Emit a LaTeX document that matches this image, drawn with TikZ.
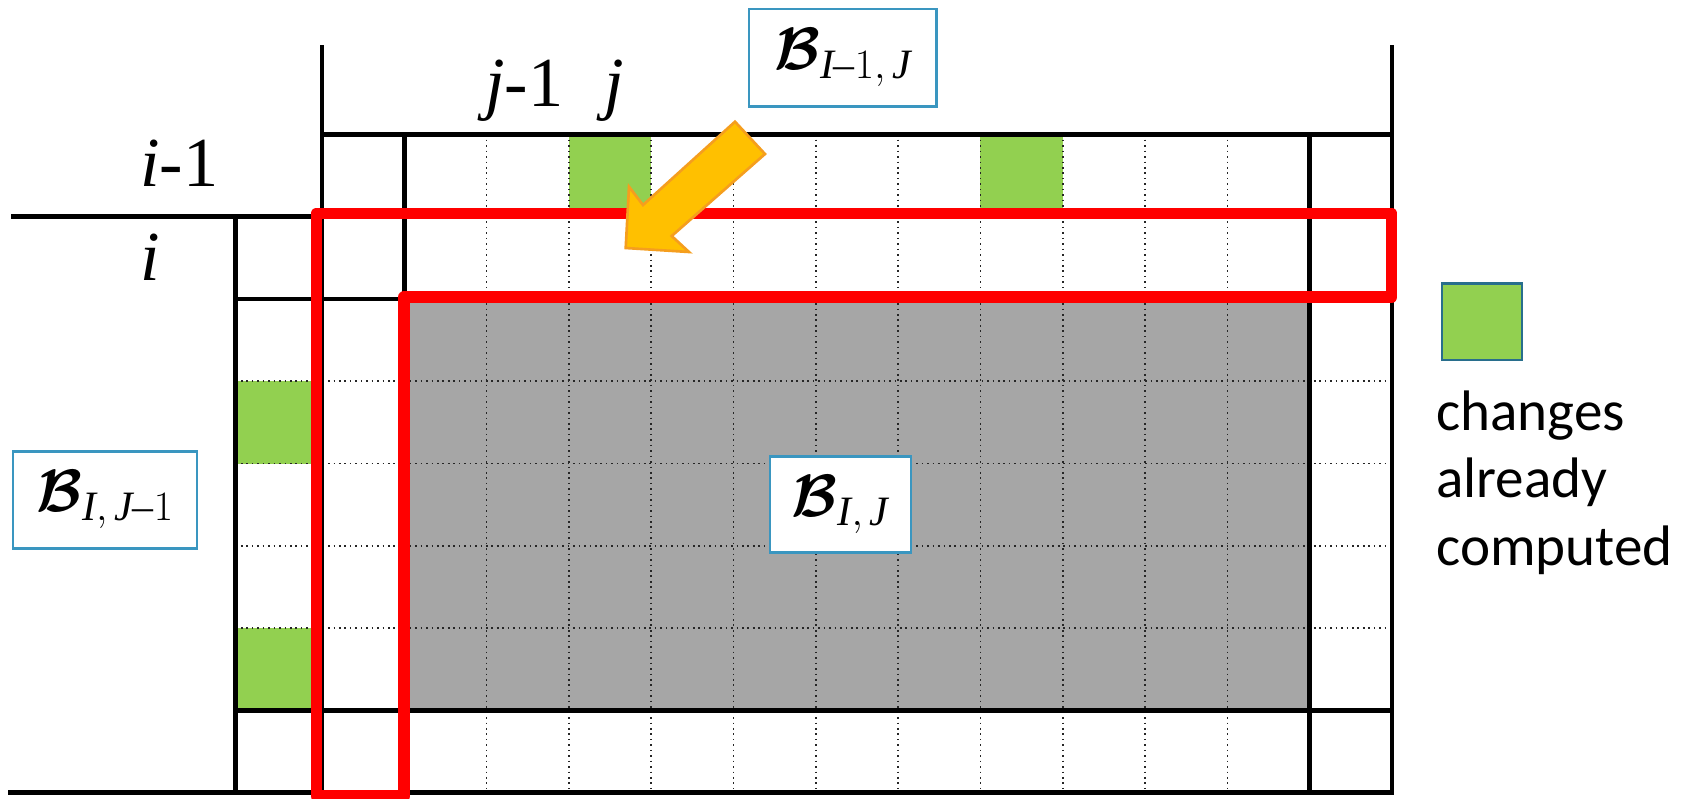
\RequirePackage{fix-cm}
\documentclass[tikz,border=0pt]{standalone}
\usepackage{fontspec}
\usepackage{amsmath}
\usepackage{bm}
\setmainfont{Liberation Serif}
\newfontfamily\timesf{Liberation Serif}
\newfontfamily\calib{Carlito}
\definecolor{cellgreen}{RGB}{146,208,80}
\definecolor{cellgrey}{RGB}{166,166,166}
\definecolor{arrowfill}{RGB}{255,192,0}
\definecolor{arrowedge}{RGB}{245,158,30}
\definecolor{boxblue}{RGB}{58,150,192}
\definecolor{legendedge}{RGB}{40,110,140}
\begin{document}
\begin{tikzpicture}[x=0.02cm,y=-0.02cm,
  thickline/.style={line width=2.7pt, line cap=rect},
  dotline/.style={line width=0.9pt, dash pattern=on 0.9pt off 2.2pt, black!85},
  redline/.style={draw=red, line width=6.8pt, line join=round},
  blockbox/.style={draw=boxblue, line width=1.6pt, fill=white, inner sep=0pt, font=\timesf\fontsize{34}{40}\selectfont},
  lbl/.style={font=\timesf\fontsize{40}{48}\selectfont, inner sep=0pt}
]
\useasboundingbox (0,0) rectangle (1694,798);
\fill[white] (0,0) rectangle (1694,798);
% grey block
\fill[cellgrey] (404.3,298.9) rectangle (1309.6,710.4);
% green cells
\fill[cellgreen] (568.9,134.3) rectangle (651.2,216.6);
\fill[cellgreen] (980.4,134.3) rectangle (1062.7,216.6);
\fill[cellgreen] (235.5,381.2) rectangle (322,463.5);
\fill[cellgreen] (235.5,628.1) rectangle (322,710.4);
% dotted grid
\foreach \k in {2,...,11} \draw[dotline] ({322+82.3*\k},134.3) -- ({322+82.3*\k},792.7);
\foreach \yy in {381.2,463.5,545.8,628.1} \draw[dotline] (235.5,\yy) -- (1392,\yy);
% thick grid
\draw[thickline] (322,47.3) -- (322,792.7);
\draw[thickline] (1392,47.3) -- (1392,792.7);
\draw[thickline] (404.3,134.3) -- (404.3,792.7);
\draw[thickline] (1309.6,134.3) -- (1309.6,792.7);
\draw[thickline] (235.5,216.6) -- (235.5,792.7);
\draw[thickline] (322,134.3) -- (1392,134.3);
\draw[thickline] (13,216.6) -- (1392,216.6);
\draw[thickline] (235.5,298.9) -- (1392,298.9);
\draw[thickline] (235.5,710.4) -- (1392,710.4);
\draw[thickline] (10,792.7) -- (1392,792.7);
% red outline
\draw[redline] (316.5,796) -- (316.5,213.5) -- (1391.5,213.5) -- (1391.5,297) -- (404.3,297) -- (404.3,796) -- cycle;
% block arrow
\filldraw[fill=arrowfill, draw=arrowedge, line width=1.5pt, line join=miter]
  (735,121.7) -- (765,154) -- (671.7,236) -- (689,252) -- (625.7,248) -- (629,186.7) -- (643,205) -- cycle;
% labels
\node[lbl, anchor=base west] (im1) at (140,186) {\textit{i}-1};
\node[lbl, anchor=base] (ilab) at (150,280) {\textit{i}};
\node[lbl, anchor=base west] (jm1) at (485,106.7) {\textit{j}-1};
\node[lbl, anchor=base] (jlab) at (614,106.7) {\textit{j}};
% boxes
\node[blockbox, minimum width=3.76cm, minimum height=1.95cm] (bTop) at (842.9,57.8)
  {$\bm{\mathcal{B}}_{\mathit{I}\text{–}1,\,\mathit{J}}$};
\node[blockbox, minimum width=3.68cm, minimum height=1.93cm] (bLeft) at (105,500)
  {$\bm{\mathcal{B}}_{\mathit{I},\,\mathit{J}\text{–}1}$};
\node[blockbox, minimum width=2.82cm, minimum height=1.92cm] (bMid) at (840.5,504.7)
  {$\bm{\mathcal{B}}_{\mathit{I},\,\mathit{J}}$};
% legend
\node[draw=legendedge, fill=cellgreen, line width=1.3pt, minimum width=1.61cm, minimum height=1.53cm, inner sep=0pt] (legsq) at (1481.9,321.7) {};
\node[anchor=north west, inner sep=0pt, align=left, font=\calib\fontsize{32.5}{38.5}\selectfont] (legtxt) at (1436,390) {changes\\already\\computed};
\end{tikzpicture}
\end{document}
